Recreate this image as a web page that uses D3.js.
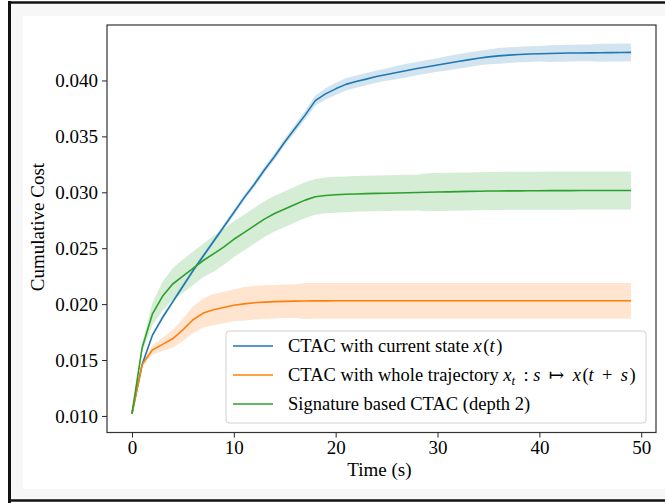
<!DOCTYPE html>
<html>
<head>
<meta charset="utf-8">
<script src="https://cdn.jsdelivr.net/npm/d3@7"></script>
<style>
  body { margin: 0; background: #fff; }
  svg { display: block; font-family: "Liberation Serif", "DejaVu Serif", serif; }
</style>
</head>
<body>
<div id="chart"></div>
<script>
// time axis (s)
const times = d3.range(0, 50);

// CTAC with current state x(t)
const blueMean = [
  0.0102, 0.0146, 0.0172, 0.0188, 0.0202, 0.0216, 0.0230, 0.0243, 0.0256, 0.0269,
  0.0282, 0.0295, 0.0307, 0.0320, 0.0332, 0.0345, 0.0357, 0.0369, 0.0382, 0.0388,
  0.03925, 0.03965, 0.03990, 0.04012, 0.04035, 0.04053, 0.04071, 0.04089, 0.04107, 0.04122,
  0.04138, 0.04154, 0.04169, 0.04184, 0.04199, 0.04211, 0.04220, 0.04227, 0.04232, 0.04236,
  0.04239, 0.04241, 0.04243, 0.04245, 0.04246, 0.04247, 0.04248, 0.04249, 0.04250, 0.04251
];
const blueSpread = [
  0.0000, 0.0001, 0.00015, 0.0002, 0.0002, 0.0002, 0.0002, 0.0002, 0.0002, 0.00025,
  0.00025, 0.00025, 0.00025, 0.0003, 0.0003, 0.0003, 0.00035, 0.0004, 0.00045, 0.0005,
  0.00055, 0.00055, 0.00055, 0.00055, 0.00055, 0.00055, 0.0006, 0.0006, 0.0006, 0.0006,
  0.0006, 0.00065, 0.00065, 0.00065, 0.00065, 0.00065, 0.0007, 0.0007, 0.0007, 0.0007,
  0.0007, 0.00075, 0.00075, 0.00075, 0.00075, 0.00075, 0.0008, 0.0008, 0.0008, 0.0008
];

// CTAC with whole trajectory
const orangeMean = [
  0.0102, 0.0146, 0.0159, 0.0164, 0.0169, 0.0177, 0.0186, 0.0192, 0.0195, 0.0197,
  0.01990, 0.02002, 0.02012, 0.02018, 0.02022, 0.02025, 0.02027, 0.02028, 0.02029, 0.02029,
  0.02030, 0.02030, 0.02030, 0.02030, 0.02030, 0.02030, 0.02030, 0.02030, 0.02030, 0.02030,
  0.02030, 0.02030, 0.02030, 0.02030, 0.02030, 0.02030, 0.02030, 0.02030, 0.02030, 0.02030,
  0.02030, 0.02030, 0.02030, 0.02030, 0.02030, 0.02030, 0.02030, 0.02030, 0.02030, 0.02030
];
const orangeSpread = [
  0.0000, 0.0002, 0.0004, 0.0006, 0.0008, 0.0010, 0.0012, 0.0013, 0.0014, 0.0014,
  0.0014, 0.0015, 0.0015, 0.0015, 0.0015, 0.0015, 0.0015, 0.0016, 0.0016, 0.0016,
  0.0016, 0.0016, 0.0016, 0.0016, 0.0016, 0.0016, 0.0016, 0.0016, 0.0016, 0.0016,
  0.0016, 0.0016, 0.0016, 0.0016, 0.0016, 0.0016, 0.0016, 0.0016, 0.0016, 0.0016,
  0.0016, 0.0016, 0.0016, 0.0016, 0.0016, 0.0016, 0.0016, 0.0016, 0.0016, 0.0016
];

// Signature based CTAC (depth 2)
const greenMean = [
  0.0102, 0.0161, 0.0191, 0.0207, 0.0218, 0.0225, 0.0232, 0.0239, 0.0245, 0.0251,
  0.0258, 0.0264, 0.0270, 0.0276, 0.0281, 0.0285, 0.0289, 0.0293, 0.02960, 0.02972,
  0.02978, 0.02982, 0.02985, 0.02988, 0.02990, 0.02992, 0.02994, 0.02996, 0.02998, 0.03000,
  0.03002, 0.03004, 0.03006, 0.03008, 0.03010, 0.03011, 0.03012, 0.03013, 0.03013, 0.03014,
  0.03014, 0.03015, 0.03015, 0.03015, 0.03016, 0.03016, 0.03016, 0.03016, 0.03016, 0.03016
];
const greenSpread = [
  0.0000, 0.0004, 0.0010, 0.0013, 0.0014, 0.0015, 0.0015, 0.0015, 0.0016, 0.0016,
  0.0016, 0.0016, 0.0016, 0.0016, 0.0016, 0.0016, 0.0016, 0.0016, 0.0016, 0.0016,
  0.0016, 0.0016, 0.0016, 0.0016, 0.0016, 0.0016, 0.0016, 0.0016, 0.0016, 0.0017,
  0.0017, 0.0017, 0.0017, 0.0017, 0.0017, 0.0017, 0.0017, 0.0017, 0.0017, 0.0017,
  0.0017, 0.0017, 0.0017, 0.0017, 0.0017, 0.0017, 0.0017, 0.0017, 0.0017, 0.0017
];

const xTicks = [0, 10, 20, 30, 40, 50];
const yTicks = [0.010, 0.015, 0.020, 0.025, 0.030, 0.035, 0.040];

const series = [
  { name: 'blue', color: '#1f77b4', mean: blueMean, spread: blueSpread },
  { name: 'orange', color: '#ff7f0e', mean: orangeMean, spread: orangeSpread },
  { name: 'green', color: '#2ca02c', mean: greenMean, spread: greenSpread }
];

const W = 665, H = 503;
const margin = { top: 25, right: 9, bottom: 70.5, left: 107 };
const width = W - margin.left - margin.right;
const height = H - margin.top - margin.bottom;
const FONT = '"Liberation Serif", "DejaVu Serif", serif';

const root = d3.select('#chart').append('svg')
  .attr('width', W)
  .attr('height', H);

// screenshot frame around the figure
root.append('rect').attr('x', 11).attr('y', 4).attr('width', W - 11).attr('height', 495).attr('fill', '#f7f7f7');
root.append('rect').attr('x', 23).attr('y', 16).attr('width', W - 23).attr('height', 473).attr('fill', '#fff');
root.append('line').attr('x1', 9.5).attr('x2', 9.5).attr('y1', 1).attr('y2', H).attr('stroke', '#111').attr('stroke-width', 3);
root.append('line').attr('x1', 8).attr('x2', W).attr('y1', 2.5).attr('y2', 2.5).attr('stroke', '#111').attr('stroke-width', 2.5);
root.append('line').attr('x1', 8).attr('x2', W).attr('y1', 500.5).attr('y2', 500.5).attr('stroke', '#111').attr('stroke-width', 2.5);

const svg = root.append('g')
  .attr('transform', 'translate(' + margin.left + ',' + margin.top + ')');

const x = d3.scaleLinear().domain([-2.45, 51.45]).range([0, width]);
const y = d3.scaleLinear().domain([0.00852, 0.04496]).range([height, 0]);

// bands first, then lines
series.forEach(s => {
  const area = d3.area()
    .x((d, i) => x(times[i]))
    .y0((d, i) => y(s.mean[i] - s.spread[i]))
    .y1((d, i) => y(s.mean[i] + s.spread[i]));
  svg.append('path')
    .datum(s.mean)
    .attr('d', area)
    .attr('fill', s.color)
    .attr('fill-opacity', 0.2);
});

series.forEach(s => {
  const line = d3.line()
    .x((d, i) => x(times[i]))
    .y(d => y(d));
  svg.append('path')
    .datum(s.mean)
    .attr('d', line)
    .attr('fill', 'none')
    .attr('stroke', s.color)
    .attr('stroke-width', 1.6)
    .attr('stroke-linejoin', 'round');
});

// axes
const xAxis = svg.append('g')
  .attr('transform', 'translate(0,' + height + ')')
  .call(d3.axisBottom(x).tickValues(xTicks).tickSize(5).tickPadding(3).tickFormat(d3.format('d')));
const yAxis = svg.append('g')
  .call(d3.axisLeft(y).tickValues(yTicks).tickSize(5).tickPadding(4).tickFormat(d3.format('.3f')));
[xAxis, yAxis].forEach(a => {
  a.attr('font-family', FONT).attr('font-size', 19);
  a.select('.domain').remove();
  a.selectAll('text').attr('fill', '#000');
  a.selectAll('line').attr('stroke', '#222').attr('stroke-width', 1);
});

svg.append('rect')
  .attr('x', 0).attr('y', 0)
  .attr('width', width).attr('height', height)
  .attr('fill', 'none')
  .attr('stroke', '#333')
  .attr('stroke-width', 1.2);

svg.append('text')
  .attr('x', x(24.3))
  .attr('y', height + 43)
  .attr('text-anchor', 'middle')
  .attr('font-size', 19)
  .text('Time (s)');

svg.append('text')
  .attr('transform', 'rotate(-90)')
  .attr('x', -(227 - margin.top))
  .attr('y', -63)
  .attr('text-anchor', 'middle')
  .attr('font-size', 19)
  .text('Cumulative Cost');

// legend
const legend = svg.append('g').attr('transform', 'translate(' + (226 - margin.left) + ',' + (331 - margin.top) + ')');
legend.append('rect')
  .attr('width', 420).attr('height', 92)
  .attr('rx', 3)
  .attr('fill', '#fff').attr('fill-opacity', 0.8)
  .attr('stroke', '#d0d0d0').attr('stroke-width', 1);

const rows = [
  [['CTAC with current state ', null], ['x', 'i'], ['\u200A(', null], ['t', 'i'], ['\u200A)', null]],
  [['CTAC with whole trajectory ', null], ['x', 'i'], ['t', 'sub'], ['\u2009 : ', null], ['s', 'i'], ['\u2009 \u21A6 \u2009', null], ['x', 'i'], ['\u200A(', null], ['t', 'i'], ['\u2009 + \u2009', null], ['s', 'i'], ['\u200A)', null]],
  [['Signature based CTAC (depth 2)', null]]
];

rows.forEach((parts, i) => {
  const cy = 15 + i * 29;
  legend.append('line')
    .attr('x1', 7).attr('x2', 47)
    .attr('y1', cy).attr('y2', cy)
    .attr('stroke', series[i].color)
    .attr('stroke-width', 1.6);
  const t = legend.append('text')
    .attr('x', 62)
    .attr('y', cy + 6)
    .attr('font-size', 18.5);
  let prevSub = false;
  parts.forEach(p => {
    const ts = t.append('tspan').text(p[0]);
    if (p[1] === 'i') ts.attr('font-style', 'italic');
    if (p[1] === 'sub') {
      ts.attr('font-style', 'italic').attr('font-size', 13).attr('dy', 4);
    } else if (prevSub) {
      ts.attr('dy', -4);
    }
    prevSub = p[1] === 'sub';
  });
});
</script>
</body>
</html>
